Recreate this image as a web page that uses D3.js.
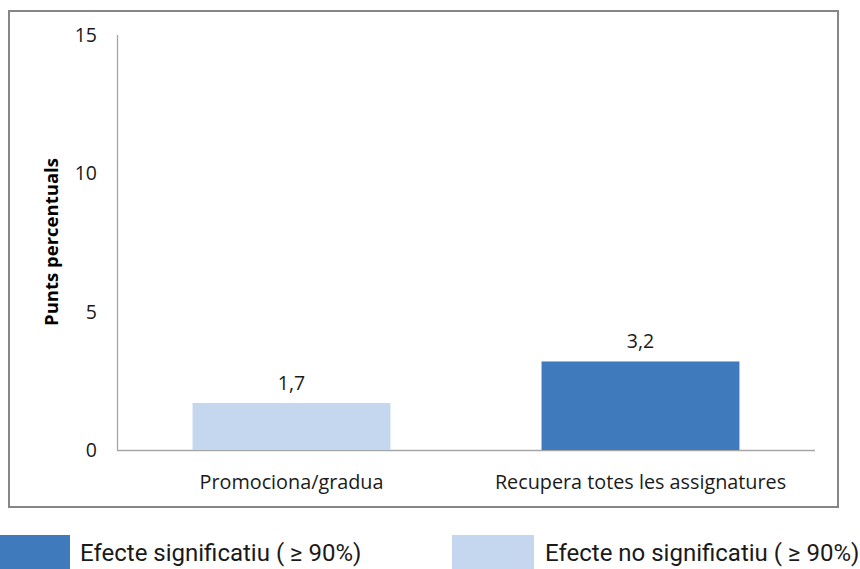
<!DOCTYPE html>
<html>
<head>
<meta charset="utf-8">
<script src="https://cdn.jsdelivr.net/npm/d3@7"></script>
<style>
  body { margin: 0; background: #fff; }
  svg { display: block; }
</style>
</head>
<body>
<svg id="chart" width="860" height="569"></svg>
<script>
const categories = ['Promociona/gradua', 'Recupera totes les assignatures'];
const values = [1.7, 3.2];
const significant = [false, true];
const yTicks = [0, 5, 10, 15];
const legendLabels = ['Efecte significatiu ( ≥ 90%)', 'Efecte no significatiu ( ≥ 90%)'];

const colors = { sig: '#3f7abd', nosig: '#c5d7ef' };
const svg = d3.select('#chart');
const axisFont = '"Open Sans", sans-serif';

// outer frame
svg.append('rect')
  .attr('x', 9).attr('y', 11).attr('width', 829).attr('height', 496)
  .attr('fill', '#fff').attr('stroke', '#868686').attr('stroke-width', 2);

const x = d3.scaleBand()
  .domain(categories)
  .range([117, 815])
  .paddingInner(0.433)
  .paddingOuter(0.2165);

const y = d3.scaleLinear().domain([0, 15]).range([450, 35]);

// axis lines
svg.append('line')
  .attr('x1', 117.5).attr('x2', 117.5).attr('y1', y(15)).attr('y2', y(0))
  .attr('stroke', '#a6a6a6').attr('stroke-width', 1.3);
svg.append('line')
  .attr('x1', 117).attr('x2', 815).attr('y1', y(0) + 0.5).attr('y2', y(0) + 0.5)
  .attr('stroke', '#a6a6a6').attr('stroke-width', 1.3);

svg.selectAll('.ytick')
  .data(yTicks)
  .join('text')
  .attr('class', 'ytick')
  .attr('x', 97)
  .attr('y', d => y(d))
  .attr('dy', '0.36em')
  .attr('text-anchor', 'end')
  .attr('font-family', axisFont)
  .attr('font-size', 19.5)
  .attr('fill', '#1a1a1a')
  .text(d => d);

svg.append('text')
  .attr('transform', 'translate(58,242) rotate(-90)')
  .attr('text-anchor', 'middle')
  .attr('font-family', axisFont)
  .attr('font-weight', 'bold')
  .attr('font-size', 18.5)
  .attr('fill', '#000')
  .text('Punts percentuals');

svg.selectAll('.bar')
  .data(categories)
  .join('rect')
  .attr('class', 'bar')
  .attr('x', d => x(d))
  .attr('width', x.bandwidth())
  .attr('y', (d, i) => y(values[i]))
  .attr('height', (d, i) => y(0) - y(values[i]))
  .attr('fill', (d, i) => significant[i] ? colors.sig : colors.nosig);

svg.selectAll('.val')
  .data(categories)
  .join('text')
  .attr('class', 'val')
  .attr('x', d => x(d) + x.bandwidth() / 2)
  .attr('y', (d, i) => y(values[i]) - 13)
  .attr('text-anchor', 'middle')
  .attr('font-family', axisFont)
  .attr('font-size', 19.5)
  .attr('fill', '#1a1a1a')
  .text((d, i) => String(values[i]).replace('.', ','));

svg.selectAll('.xlab')
  .data(categories)
  .join('text')
  .attr('class', 'xlab')
  .attr('x', d => x(d) + x.bandwidth() / 2)
  .attr('y', 489)
  .attr('text-anchor', 'middle')
  .attr('font-family', axisFont)
  .attr('font-size', 19.8)
  .attr('fill', '#1a1a1a')
  .text(d => d);

// legend
const legend = svg.selectAll('.leg')
  .data(legendLabels)
  .join('g')
  .attr('class', 'leg')
  .attr('transform', (d, i) => `translate(${i === 0 ? 0 : 452},535)`);
legend.append('rect')
  .attr('width', (d, i) => i === 0 ? 70 : 82)
  .attr('height', 34)
  .attr('fill', (d, i) => i === 0 ? colors.sig : colors.nosig);
legend.append('text')
  .attr('x', (d, i) => i === 0 ? 80 : 93)
  .attr('y', 26)
  .attr('font-family', 'Roboto, sans-serif')
  .attr('font-size', 24)
  .attr('fill', '#1a1a1a')
  .text(d => d);
</script>
</body>
</html>
